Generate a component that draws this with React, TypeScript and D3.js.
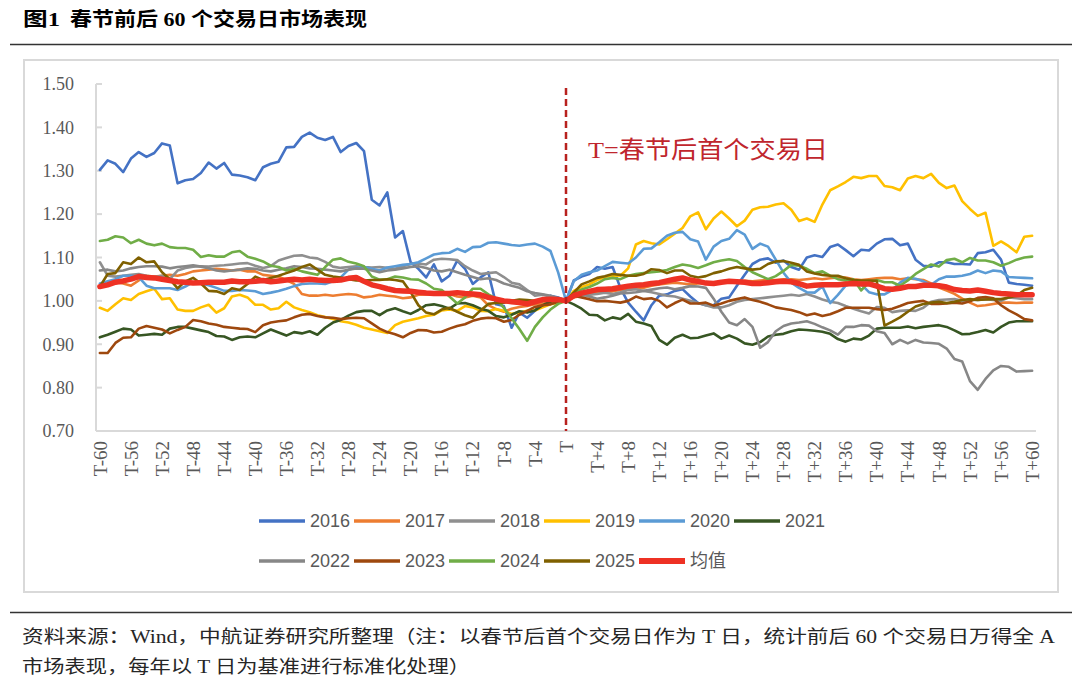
import * as d3 from 'd3';

// T-60 ... T ... T+60 (121 trading days)
const dayLabels: string[] = Array.from({ length: 121 }, (_, i) =>
  i === 60 ? 'T' : i < 60 ? `T-${60 - i}` : `T+${i - 60}`
);
const yTicks = [0.7, 0.8, 0.9, 1.0, 1.1, 1.2, 1.3, 1.4, 1.5];

const s2016 = [
  1.302, 1.324, 1.316, 1.297, 1.328, 1.343, 1.332, 1.341, 1.363, 1.358,
  1.271, 1.278, 1.281, 1.295, 1.319, 1.305, 1.318, 1.291, 1.289, 1.285,
  1.278, 1.308, 1.316, 1.321, 1.354, 1.355, 1.378, 1.388, 1.376, 1.371,
  1.378, 1.343, 1.357, 1.364, 1.345, 1.233, 1.220, 1.250, 1.146, 1.161,
  1.089, 1.074, 1.054, 1.084, 1.045, 1.058, 1.093, 1.074, 1.039, 1.054,
  1.066, 0.992, 0.988, 0.938, 0.973, 0.961, 0.977, 1.000, 1.012, 1.008,
  1.000,
  1.047, 1.056, 1.062, 1.078, 1.074, 1.078, 1.030, 0.996, 0.975, 0.955,
  0.990, 1.012, 1.015, 1.023, 1.027, 1.010, 0.995, 0.990, 0.990, 1.005,
  1.008, 1.035, 1.060, 1.085, 1.095, 1.098, 1.088, 1.093, 1.078, 1.072,
  1.100, 1.105, 1.101, 1.124, 1.130, 1.117, 1.103, 1.118, 1.116, 1.132,
  1.142, 1.143, 1.128, 1.132, 1.095, 1.081, 1.079, 1.089, 1.089, 1.085,
  1.085, 1.084, 1.110, 1.112, 1.118, 1.095, 1.042, 1.039, 1.037, 1.035,
];

const s2017 = [
  1.035, 1.040, 1.043, 1.040, 1.035, 1.047, 1.058, 1.056, 1.058, 1.060,
  1.058, 1.062, 1.068, 1.070, 1.072, 1.074, 1.072, 1.070, 1.072, 1.068,
  1.068, 1.060, 1.058, 1.056, 1.048, 1.039, 1.016, 1.012, 1.012, 1.014,
  1.012, 1.014, 1.016, 1.014, 1.008, 1.010, 1.014, 1.012, 1.010, 1.006,
  1.008, 1.014, 1.015, 1.016, 1.017, 1.016, 1.010, 1.008, 1.012, 1.008,
  0.990, 0.981, 0.975, 0.982, 0.986, 0.988, 0.992, 0.994, 0.996, 0.998,
  1.000,
  1.008, 1.012, 1.015, 1.018, 1.020, 1.022, 1.025, 1.027, 1.028, 1.030,
  1.035, 1.038, 1.040, 1.042, 1.040, 1.038, 1.040, 1.042, 1.040, 1.042,
  1.044, 1.045, 1.046, 1.045, 1.047, 1.048, 1.048, 1.050, 1.050, 1.048,
  1.050, 1.052, 1.050, 1.052, 1.054, 1.054, 1.050, 1.048, 1.050, 1.052,
  1.053, 1.053, 1.050, 1.052, 1.050, 1.048, 1.040, 1.031, 1.024, 1.016,
  1.005, 0.996, 0.988, 0.990, 0.993, 0.996, 0.996, 0.995, 0.996, 0.996,
];

const s2018 = [
  1.089, 1.058, 1.056, 1.058, 1.060, 1.062, 1.058, 1.055, 1.058, 1.050,
  1.070, 1.076, 1.079, 1.080, 1.079, 1.081, 1.082, 1.084, 1.086, 1.087,
  1.081, 1.076, 1.080, 1.093, 1.099, 1.104, 1.105, 1.100, 1.098, 1.090,
  1.079, 1.076, 1.078, 1.080, 1.078, 1.077, 1.078, 1.076, 1.074, 1.080,
  1.085, 1.086, 1.084, 1.095, 1.097, 1.096, 1.094, 1.080, 1.070, 1.062,
  1.064, 1.066, 1.055, 1.042, 1.038, 1.025, 1.012, 1.014, 1.010, 1.005,
  1.000,
  1.016, 1.012, 1.014, 1.016, 1.019, 1.016, 1.020, 1.025, 1.027, 1.023,
  1.020, 1.016, 1.012, 1.010, 1.005, 1.000, 0.995, 0.990, 0.985, 0.985,
  0.990, 0.998, 1.002, 1.004, 1.006, 1.008, 1.010, 1.012, 1.014, 1.012,
  1.016, 1.010, 1.003, 0.998, 0.995, 0.988, 0.982, 0.976, 0.971, 0.986,
  0.984, 0.974, 0.977, 0.978, 0.977, 0.984, 0.998, 1.002, 1.003, 1.004,
  1.000, 1.002, 1.002, 1.004, 1.002, 1.000, 1.008, 1.006, 1.004, 1.004,
];

const s2019 = [
  0.984, 0.977, 0.992, 1.006, 1.002, 1.016, 1.022, 1.028, 1.004, 1.006,
  0.980, 0.977, 0.977, 0.985, 0.991, 0.973, 0.983, 1.010, 1.014, 1.008,
  0.991, 0.991, 0.980, 0.983, 0.998, 0.985, 0.979, 0.974, 0.967, 0.963,
  0.958, 0.953, 0.950, 0.945, 0.938, 0.934, 0.930, 0.926, 0.944, 0.952,
  0.956, 0.960, 0.965, 0.968, 0.978, 0.980, 0.977, 0.988, 0.985, 0.977,
  0.976, 0.981, 0.977, 0.970, 0.973, 0.977, 0.978, 0.985, 0.992, 0.996,
  1.000,
  1.023, 1.032, 1.038, 1.048, 1.055, 1.058, 1.058, 1.075, 1.130, 1.138,
  1.133, 1.130, 1.142, 1.155, 1.168, 1.195, 1.204, 1.165, 1.190, 1.206,
  1.190, 1.172, 1.185, 1.210, 1.216, 1.217, 1.222, 1.225, 1.210, 1.184,
  1.190, 1.182, 1.222, 1.255, 1.264, 1.274, 1.286, 1.283, 1.288, 1.288,
  1.265, 1.262, 1.255, 1.282, 1.288, 1.283, 1.293, 1.272, 1.260, 1.266,
  1.230, 1.212, 1.196, 1.203, 1.127, 1.137, 1.126, 1.112, 1.148, 1.150,
];

const s2020 = [
  1.040, 1.045, 1.050, 1.058, 1.058, 1.055, 1.035, 1.029, 1.029, 1.029,
  1.025, 1.033, 1.043, 1.040, 1.036, 1.030, 1.023, 1.023, 1.025, 1.024,
  1.022, 1.016, 1.019, 1.023, 1.028, 1.034, 1.039, 1.040, 1.040, 1.039,
  1.045, 1.054, 1.072, 1.077, 1.078, 1.074, 1.070, 1.077, 1.080, 1.083,
  1.085, 1.089, 1.098, 1.107, 1.110, 1.111, 1.120, 1.113, 1.124, 1.125,
  1.134, 1.135, 1.132, 1.129, 1.127, 1.130, 1.132, 1.125, 1.115, 1.065,
  1.000,
  1.045, 1.060, 1.066, 1.070, 1.080, 1.090, 1.088, 1.086, 1.100, 1.120,
  1.121, 1.135, 1.150, 1.157, 1.159, 1.142, 1.137, 1.095, 1.125, 1.138,
  1.143, 1.163, 1.153, 1.120, 1.132, 1.125, 1.095, 1.065, 1.042, 1.030,
  1.020, 1.019, 1.033, 0.995, 1.014, 1.035, 1.042, 1.038, 1.020, 1.015,
  1.015, 1.025, 1.042, 1.053, 1.051, 1.045, 1.037, 1.050, 1.056, 1.056,
  1.058, 1.062, 1.070, 1.064, 1.070, 1.068, 1.055, 1.054, 1.053, 1.052,
];

const s2021 = [
  0.916, 0.922, 0.929, 0.936, 0.934, 0.920, 0.922, 0.924, 0.922, 0.936,
  0.940, 0.940, 0.936, 0.932, 0.928, 0.919, 0.918, 0.910, 0.916, 0.918,
  0.916, 0.925, 0.934, 0.927, 0.920, 0.928, 0.925, 0.930, 0.922, 0.938,
  0.950, 0.956, 0.966, 0.974, 0.977, 0.977, 0.967, 0.978, 0.983, 0.976,
  0.970, 0.979, 0.990, 0.992, 0.988, 0.982, 0.994, 0.995, 0.990, 0.982,
  0.977, 0.965, 0.962, 0.968, 0.976, 0.973, 0.978, 0.990, 0.998, 1.006,
  1.000,
  0.992, 0.982, 0.968, 0.967, 0.955, 0.962, 0.958, 0.970, 0.952, 0.948,
  0.942, 0.910, 0.899, 0.915, 0.922, 0.914, 0.915, 0.920, 0.925, 0.913,
  0.920, 0.913, 0.902, 0.899, 0.905, 0.918, 0.922, 0.924, 0.930, 0.934,
  0.933, 0.931, 0.929, 0.924, 0.912, 0.906, 0.913, 0.911, 0.920, 0.936,
  0.938, 0.938, 0.938, 0.941, 0.937, 0.940, 0.942, 0.944, 0.940, 0.932,
  0.923, 0.924, 0.928, 0.933, 0.927, 0.940, 0.950, 0.953, 0.953, 0.953,
];

const s2022 = [
  1.070, 1.072, 1.068, 1.070, 1.075, 1.078, 1.080, 1.080, 1.079, 1.075,
  1.078, 1.080, 1.082, 1.079, 1.075, 1.070, 1.068, 1.070, 1.072, 1.075,
  1.074, 1.070, 1.068, 1.072, 1.075, 1.080, 1.078, 1.075, 1.074, 1.072,
  1.070, 1.068, 1.072, 1.075, 1.074, 1.070, 1.066, 1.070, 1.072, 1.075,
  1.078, 1.080, 1.076, 1.070, 1.068, 1.072, 1.066, 1.060, 1.055, 1.050,
  1.052, 1.048, 1.040, 1.035, 1.030, 1.022, 1.018, 1.015, 1.012, 1.006,
  1.000,
  1.012, 1.016, 1.010, 1.005, 1.008, 1.012, 1.017, 1.018, 1.020, 1.023,
  1.026, 1.029, 1.031, 1.027, 1.030, 1.034, 1.033, 1.030, 1.005, 0.975,
  0.950, 0.944, 0.958, 0.940, 0.892, 0.905, 0.930, 0.942, 0.948, 0.950,
  0.953, 0.947, 0.939, 0.932, 0.922, 0.940, 0.940, 0.944, 0.943, 0.930,
  0.926, 0.900, 0.910, 0.902, 0.910, 0.904, 0.903, 0.901, 0.890, 0.866,
  0.860, 0.815, 0.795, 0.820, 0.840, 0.850, 0.848, 0.837, 0.838, 0.839,
];

const s2023 = [
  0.880, 0.880, 0.903, 0.915, 0.916, 0.936, 0.942, 0.938, 0.934, 0.925,
  0.933, 0.940, 0.956, 0.953, 0.948, 0.945, 0.940, 0.938, 0.936, 0.935,
  0.928, 0.944, 0.950, 0.953, 0.955, 0.962, 0.968, 0.970, 0.965, 0.962,
  0.961, 0.958, 0.960, 0.961, 0.960, 0.948, 0.936, 0.928, 0.923, 0.916,
  0.926, 0.933, 0.932, 0.927, 0.929, 0.936, 0.942, 0.946, 0.954, 0.959,
  0.961, 0.960, 0.952, 0.956, 0.968, 0.977, 0.986, 0.990, 0.992, 0.998,
  1.000,
  1.012, 1.008, 1.004, 0.999, 1.000, 0.998, 0.996, 1.000, 1.010, 1.004,
  1.006, 1.000, 0.985, 0.995, 1.003, 0.994, 0.994, 0.996, 0.989, 0.994,
  1.000, 1.004, 1.008, 1.002, 0.998, 0.992, 0.985, 0.982, 0.979, 0.974,
  0.967, 0.971, 0.965, 0.969, 0.976, 0.984, 0.984, 0.984, 0.984, 0.981,
  0.979, 0.982, 0.988, 0.995, 0.998, 1.000, 0.993, 0.993, 0.994, 0.996,
  0.994, 0.999, 1.007, 1.009, 1.006, 0.990, 0.978, 0.969, 0.958, 0.955,
];

const s2024 = [
  1.138, 1.141, 1.149, 1.146, 1.133, 1.141, 1.132, 1.128, 1.132, 1.124,
  1.122, 1.122, 1.118, 1.101, 1.105, 1.102, 1.102, 1.112, 1.115, 1.102,
  1.097, 1.091, 1.081, 1.078, 1.070, 1.074, 1.068, 1.064, 1.060, 1.078,
  1.095, 1.098, 1.090, 1.086, 1.080, 1.056, 1.049, 1.050, 1.056, 1.054,
  1.050, 1.049, 1.040, 1.028, 1.025, 1.010, 0.994, 1.008, 1.028, 1.028,
  1.015, 1.005, 0.984, 0.960, 0.935, 0.908, 0.940, 0.962, 0.980, 0.993,
  1.000,
  1.019, 1.026, 1.032, 1.040, 1.050, 1.053, 1.050, 1.058, 1.062, 1.064,
  1.066, 1.068, 1.071, 1.078, 1.084, 1.081, 1.076, 1.082, 1.089, 1.093,
  1.096, 1.092, 1.078, 1.066, 1.058, 1.050, 1.057, 1.069, 1.083, 1.081,
  1.074, 1.064, 1.068, 1.058, 1.050, 1.047, 1.050, 1.024, 1.043, 1.048,
  1.043, 1.043, 1.035, 1.047, 1.062, 1.073, 1.084, 1.079, 1.094, 1.097,
  1.089, 1.099, 1.093, 1.093, 1.089, 1.081, 1.087, 1.095, 1.100, 1.102,
];

const s2025 = [
  1.033, 1.062, 1.064, 1.089, 1.085, 1.100, 1.089, 1.091, 1.066, 1.050,
  1.029, 1.045, 1.053, 1.040, 1.023, 1.022, 1.016, 1.029, 1.025, 1.039,
  1.056, 1.048, 1.053, 1.058, 1.064, 1.070, 1.078, 1.084, 1.072, 1.060,
  1.056, 1.054, 1.050, 1.047, 1.047, 1.048, 1.048, 1.050, 1.048, 1.045,
  1.020, 0.990, 0.973, 0.969, 0.980, 0.984, 0.975, 0.967, 0.961, 0.978,
  0.993, 0.995, 0.996, 1.000, 1.003, 1.002, 1.000, 1.003, 1.006, 1.004,
  1.000,
  1.019, 1.038, 1.045, 1.053, 1.057, 1.062, 1.060, 1.058, 1.058, 1.062,
  1.073, 1.071, 1.064, 1.070, 1.070, 1.058, 1.054, 1.057, 1.064, 1.068,
  1.074, 1.078, 1.075, 1.072, 1.074, 1.085, 1.091, 1.092, 1.088, 1.083,
  1.068, 1.063, 1.060, 1.058, 1.058, 1.052, 1.048, 1.047, 1.047, 1.046,
  0.943, 0.952, 0.962, 0.975, 0.987, 0.993, 0.996, 0.998, 0.995, 0.998,
  1.002, 1.004, 1.002, 1.003, 1.004, 1.004, 1.008, 1.012, 1.025, 1.030,
];

const sMean = [
  1.033, 1.037, 1.043, 1.046, 1.050, 1.056, 1.054, 1.053, 1.050, 1.047,
  1.044, 1.043, 1.041, 1.042, 1.043, 1.043, 1.043, 1.046, 1.044, 1.044,
  1.045, 1.047, 1.044, 1.046, 1.048, 1.050, 1.048, 1.050, 1.048, 1.047,
  1.047, 1.048, 1.052, 1.054, 1.045, 1.037, 1.033, 1.028, 1.024, 1.023,
  1.022, 1.020, 1.018, 1.017, 1.017, 1.017, 1.019, 1.017, 1.016, 1.014,
  1.008, 1.004, 1.000, 0.998, 0.996, 0.993, 0.998, 1.003, 1.004, 1.003,
  1.000,
  1.012, 1.018, 1.022, 1.026, 1.027, 1.028, 1.031, 1.034, 1.036, 1.037,
  1.040, 1.042, 1.046, 1.050, 1.053, 1.048, 1.045, 1.041, 1.040, 1.043,
  1.045, 1.044, 1.043, 1.040, 1.040, 1.042, 1.044, 1.045, 1.044, 1.040,
  1.034, 1.036, 1.037, 1.037, 1.037, 1.039, 1.040, 1.039, 1.039, 1.034,
  1.028, 1.027, 1.029, 1.033, 1.033, 1.036, 1.036, 1.035, 1.032, 1.026,
  1.024, 1.023, 1.025, 1.022, 1.019, 1.017, 1.016, 1.014, 1.014, 1.014,
];

const seriesNames = ['2016', '2017', '2018', '2019', '2020', '2021', '2022', '2023', '2024', '2025', '均值'];
const seriesValues = [s2016, s2017, s2018, s2019, s2020, s2021, s2022, s2023, s2024, s2025, sMean];
const seriesColors = [
  '#4472C4', '#ED7D31', '#8F8F8F', '#FFC000', '#5B9BD5',
  '#375623', '#878787', '#9E480E', '#70AD47', '#7F6000', '#EE3124',
];

const SERIF = "'Liberation Serif', 'Noto Sans CJK SC', serif";
const SANS = "'Liberation Sans', 'Noto Sans CJK SC', sans-serif";

export default function App() {
  const width = 1080;
  const height = 692;
  const plot = { left: 96, right: 1036, top: 84, bottom: 431 };

  const x = d3.scalePoint<string>().domain(dayLabels).range([plot.left, plot.right]).padding(0.5);
  const y = d3.scaleLinear().domain([0.7, 1.5]).range([plot.bottom, plot.top]);

  const line = d3.line<number>()
    .x((_, i) => x(dayLabels[i]) as number)
    .y(d => y(d));

  const tX = x('T') as number;

  return (
    <div style={{ position: 'absolute', left: 0, top: 0 }}>
      <svg width={width} height={height} style={{ display: 'block', background: '#fff' }}>
        {/* header */}
        <text y={26} fontFamily={SERIF} fontWeight="bold" fontSize={19} fill="#000">
          <tspan x={23} textLength={37} lengthAdjust="spacingAndGlyphs">图1</tspan>
          <tspan x={70} textLength={297} lengthAdjust="spacingAndGlyphs">春节前后 60 个交易日市场表现</tspan>
        </text>
        <line x1={10} x2={1072} y1={44.5} y2={44.5} stroke="#333" strokeWidth={1.5} />

        {/* chart frame */}
        <rect x={24} y={60} width={1034} height={532} fill="none" stroke="#D9D9D9" strokeWidth={2} />

        {/* axes */}
        <line x1={plot.left} x2={plot.left} y1={plot.top} y2={plot.bottom} stroke="#D9D9D9" strokeWidth={2} />
        <line x1={plot.left} x2={plot.right} y1={plot.bottom} y2={plot.bottom} stroke="#D9D9D9" strokeWidth={2} />
        {yTicks.map(t => (
          <g key={t}>
            <line x1={plot.left} x2={plot.left + 6} y1={y(t)} y2={y(t)} stroke="#D9D9D9" strokeWidth={2} />
            <text x={74} y={y(t)} dy="0.35em" textAnchor="end" fontFamily={SERIF} fontSize={18} fill="#595959">
              {d3.format('.2f')(t)}
            </text>
          </g>
        ))}
        {dayLabels.filter((_, i) => i % 4 === 0).map(lab => (
          <text key={lab} transform={`translate(${x(lab)},${441}) rotate(-90)`} dy="0.35em"
            textAnchor="end" fontFamily={SERIF} fontSize={19} fill="#595959">
            {lab}
          </text>
        ))}

        {/* series */}
        {seriesValues.map((vals, k) => (
          <path key={seriesNames[k]} d={line(vals) || ''} fill="none" stroke={seriesColors[k]}
            strokeWidth={k === 10 ? 5.5 : 2.6} strokeLinejoin="round" strokeLinecap="round" />
        ))}

        {/* T marker */}
        <line x1={tX} x2={tX} y1={88} y2={plot.bottom} stroke="#B8211E" strokeWidth={2.5} strokeDasharray="7,4" />
        <text x={588} y={158} fontFamily={SERIF} fontSize={24} fill="#C0262D"
          textLength={240} lengthAdjust="spacingAndGlyphs">
          T=春节后首个交易日
        </text>

        {/* legend */}
        {seriesNames.map((name, k) => {
          const row = k < 6 ? 0 : 1;
          const col = k < 6 ? k : k - 6;
          const lx = 259 + col * 95;
          const ly = row === 0 ? 521 : 561;
          return (
            <g key={name}>
              <line x1={lx} x2={lx + 46} y1={ly} y2={ly} stroke={seriesColors[k]} strokeWidth={k === 10 ? 6 : 3.5} />
              <text x={lx + 51} y={ly} dy="0.35em" fontFamily={SANS} fontSize={18} fill="#595959">{name}</text>
            </g>
          );
        })}

        {/* footer */}
        <line x1={10} x2={1072} y1={612.5} y2={612.5} stroke="#333" strokeWidth={1.5} />
        <text x={22} y={643} fontFamily={SERIF} fontSize={18} fill="#262626"
          textLength={1033} lengthAdjust="spacingAndGlyphs">
          资料来源：Wind，中航证券研究所整理（注：以春节后首个交易日作为 T 日，统计前后 60 个交易日万得全 A
        </text>
        <text x={22} y={673} fontFamily={SERIF} fontSize={18} fill="#262626"
          textLength={448} lengthAdjust="spacingAndGlyphs">
          市场表现，每年以 T 日为基准进行标准化处理）
        </text>
      </svg>
    </div>
  );
}
